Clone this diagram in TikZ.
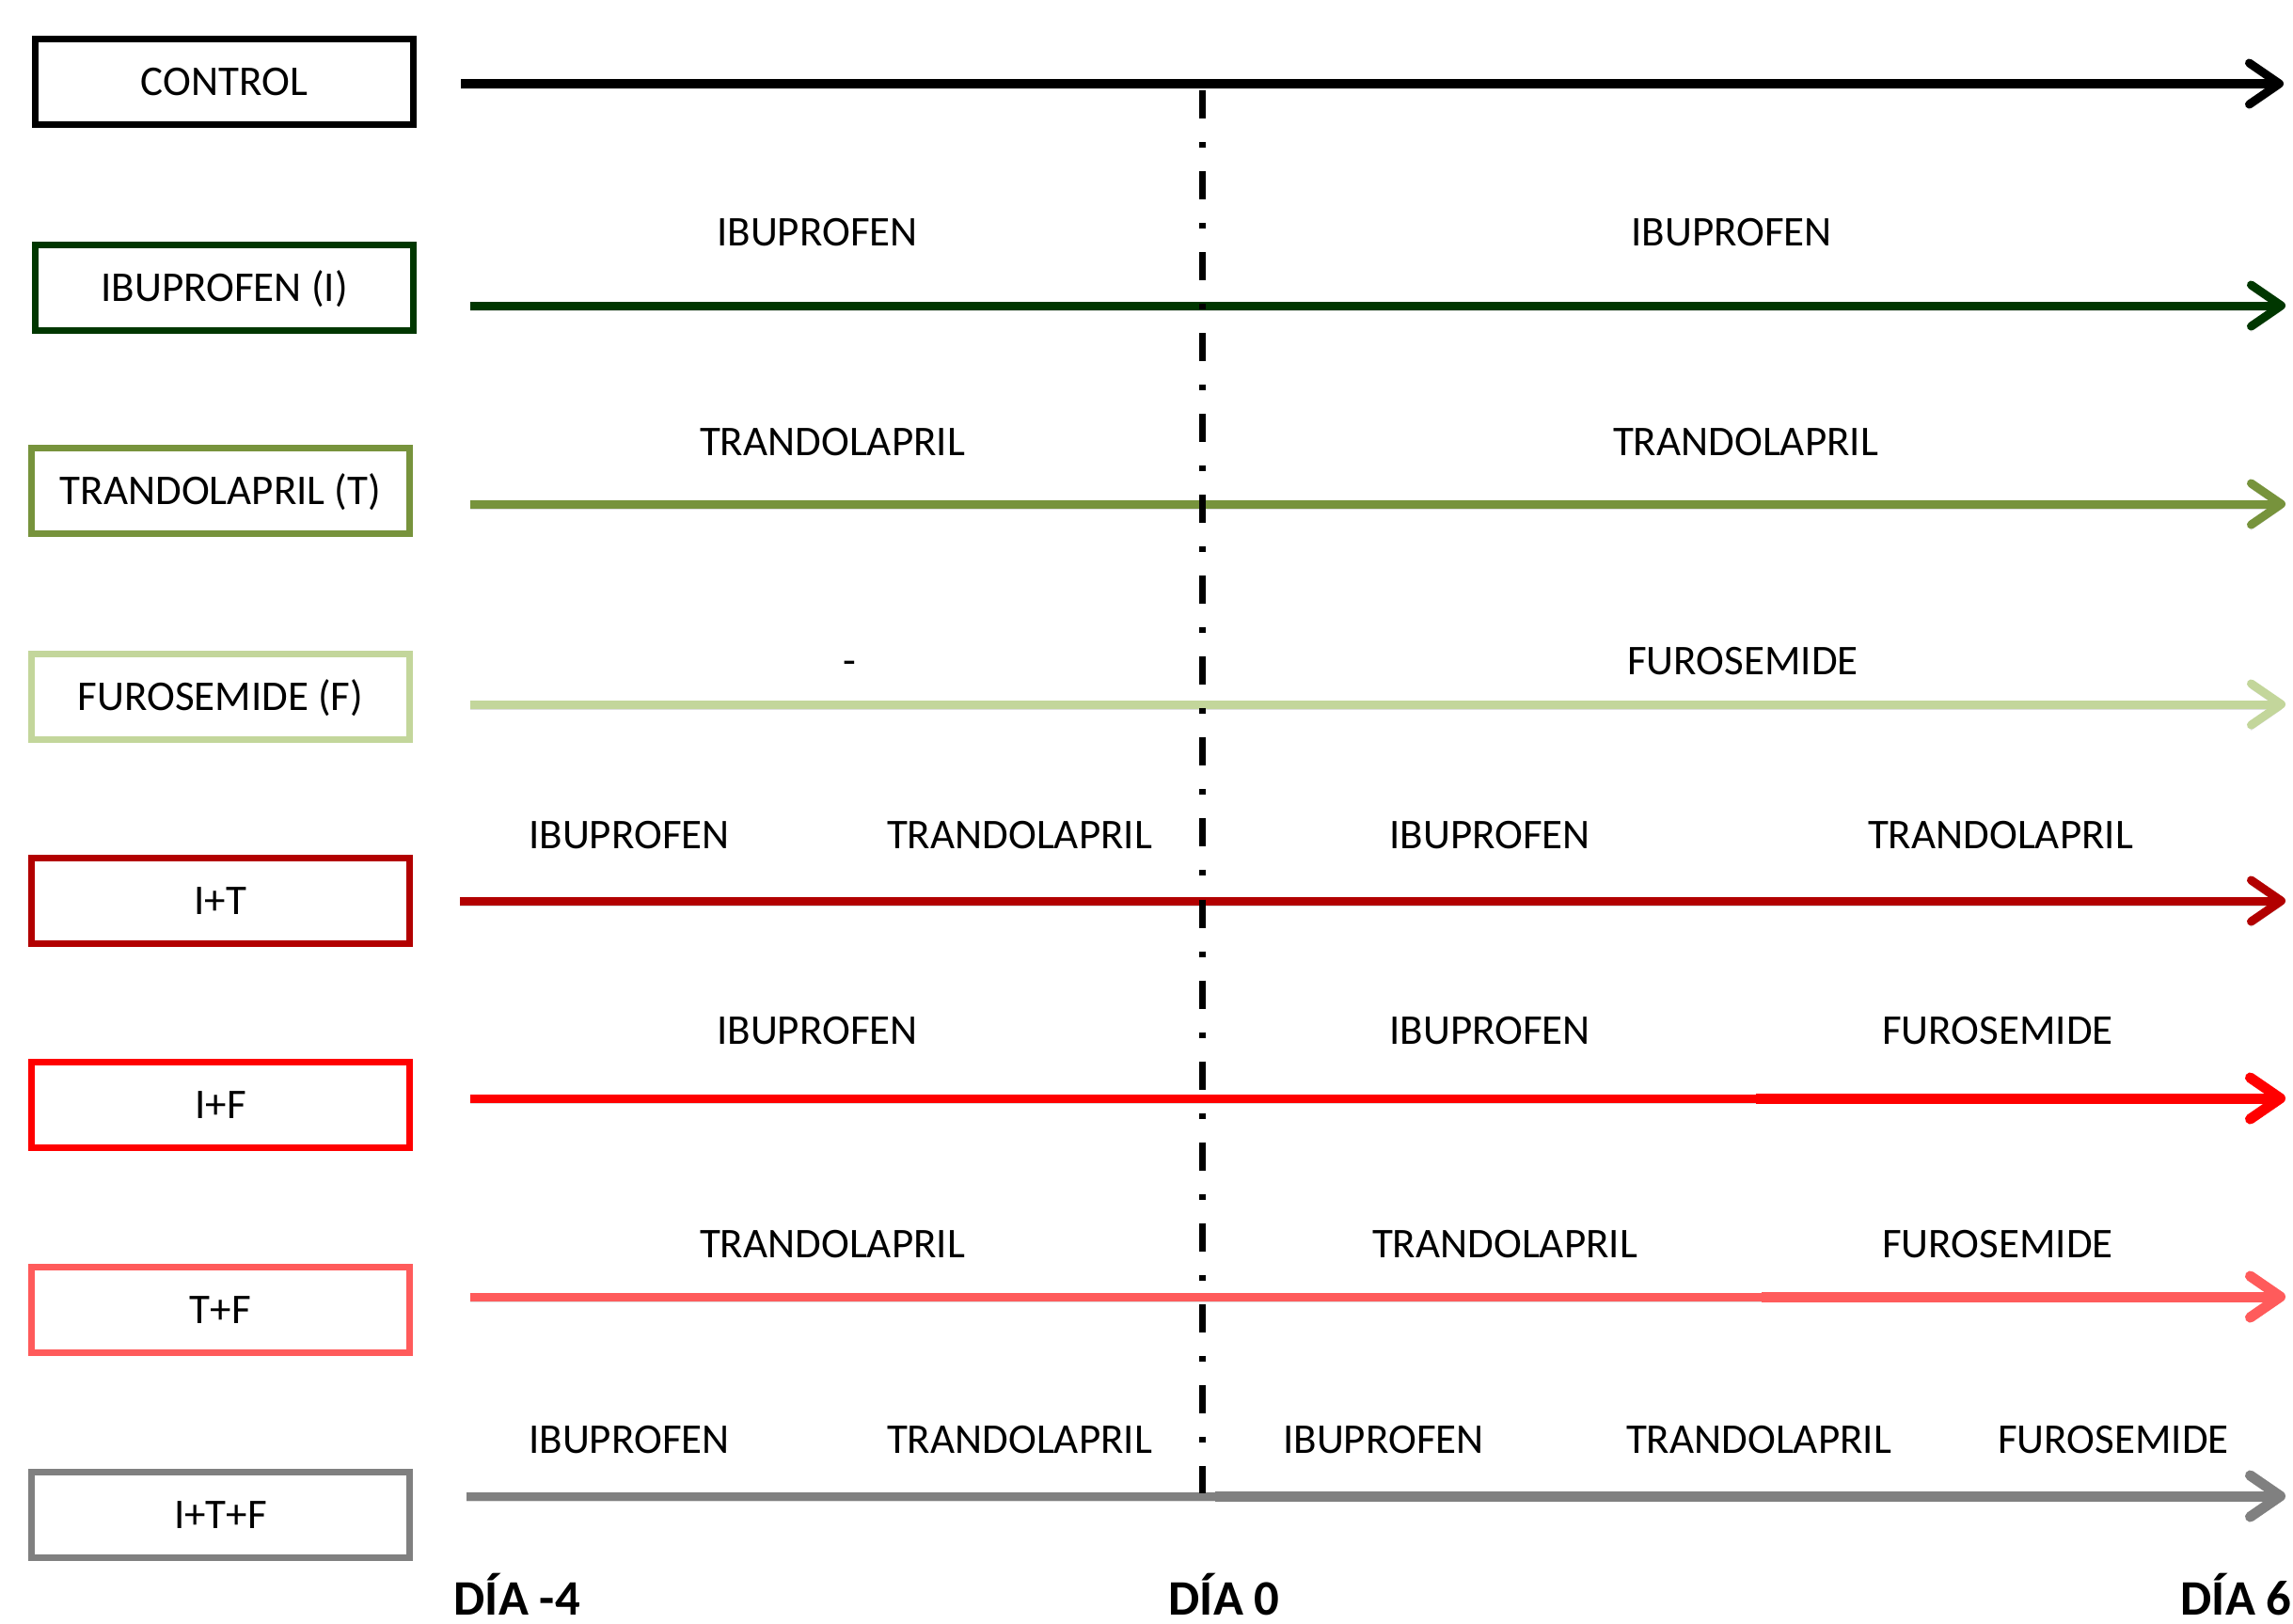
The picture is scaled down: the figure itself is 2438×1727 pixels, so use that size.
\documentclass[tikz,border=0pt]{standalone}
\usepackage{fontspec}
\setmainfont{Carlito}
\usetikzlibrary{arrows.meta}
\definecolor{cdkgreen}{RGB}{0,55,0}
\definecolor{colive}{RGB}{119,147,60}
\definecolor{clgreen}{RGB}{195,214,155}
\definecolor{cdkred}{RGB}{178,0,0}
\definecolor{cred}{RGB}{255,0,0}
\definecolor{clred}{RGB}{255,91,91}
\definecolor{cgray}{RGB}{128,128,128}
\newcommand\mylblfont{\fontsize{12.8}{15}\selectfont}
\newcommand\mydayfont{\fontsize{15}{18}\selectfont\bfseries}
\begin{document}
\begin{tikzpicture}[x=0.01cm,y=-0.01cm,
  grpbox/.style={draw,line width=2.1pt,minimum width=4.02cm,minimum height=0.91cm,inner sep=0pt,text height=0.29cm,text depth=0pt,font=\mylblfont},
  drug/.style={inner sep=0pt,text height=0.29cm,text depth=0pt,font=\mylblfont},
  daylbl/.style={inner sep=0pt,anchor=west,text height=0.34cm,text depth=0pt,font=\mydayfont},
  tl/.style={line width=0.09cm,preaction={draw=black,opacity=0.13,transform canvas={yshift=-0.05cm}}},
  tlthick/.style={tl,line width=0.11cm},
  tip/.style={-{Straight Barb[length=0.32cm,width=0.44cm,round]}},
  dayzero/.style={line width=0.07cm,dash pattern=on 0.30cm off 0.25cm on 0.06cm off 0.25cm}
]
\useasboundingbox (0,0) rectangle (2438,1727);

% group boxes
\node[grpbox,draw=black]    (bC)   at (238.5,87)  {CONTROL};
\node[grpbox,draw=cdkgreen] (bI)   at (238.5,306) {IBUPROFEN (I)};
\node[grpbox,draw=colive]   (bT)   at (234.5,522) {TRANDOLAPRIL (T)};
\node[grpbox,draw=clgreen]  (bF)   at (234.5,741) {FUROSEMIDE (F)};
\node[grpbox,draw=cdkred]   (bIT)  at (234.5,958) {I+T};
\node[grpbox,draw=cred]     (bIF)  at (234.5,1175) {I+F};
\node[grpbox,draw=clred]    (bTF)  at (234.5,1393) {T+F};
\node[grpbox,draw=cgray]    (bITF) at (234.5,1611) {I+T+F};

% timeline coordinates
\coordinate (s1) at (490,89);   \coordinate (e1) at (2428,89);
\coordinate (s2) at (500,325);  \coordinate (e2) at (2430,325);
\coordinate (s3) at (500,536);  \coordinate (e3) at (2430,536);
\coordinate (s4) at (500,749);  \coordinate (e4) at (2430,749);
\coordinate (s5) at (489,958);  \coordinate (m5a) at (896,958); \coordinate (m5b) at (1292,958);
\coordinate (m5c) at (1867,958); \coordinate (m5d) at (2095,958); \coordinate (e5) at (2430,958);
\coordinate (s6) at (500,1168); \coordinate (m6) at (1867,1168); \coordinate (e6) at (2430,1168);
\coordinate (s7) at (500,1379); \coordinate (m7) at (1873,1379); \coordinate (e7) at (2430,1379);
\coordinate (s8) at (496,1591); \coordinate (m8a) at (898,1591); \coordinate (m8b) at (1292,1591); \coordinate (e8) at (2430,1591);

% timelines
\draw[tl,tip,draw=black] (s1) -- (e1);
\draw[tl,tip,draw=cdkgreen] (s2) -- (e2);
\draw[tl,tip,draw=colive] (s3) -- (e3);
\draw[tl,tip,draw=clgreen] (s4) -- (e4);
\draw[tl,draw=cdkred] (s5) -- (m5a);
\draw[tl,draw=cdkred] (m5a) -- (m5b);
\draw[tl,draw=cdkred] (m5b) -- (m5c);
\draw[tl,draw=cdkred] (m5c) -- (m5d);
\draw[tl,tip,draw=cdkred] (m5d) -- (e5);
\draw[tl,draw=cred] (s6) -- (m6);
\draw[tlthick,tip,draw=cred] (m6) -- (e6);
\draw[tl,draw=clred] (s7) -- (m7);
\draw[tlthick,tip,draw=clred] (m7) -- (e7);
\draw[tl,draw=cgray] (s8) -- (m8a);
\draw[tl,draw=cgray] (m8a) -- (m8b);
\draw[tlthick,tip,draw=cgray] (m8b) -- (e8);

% day 0 dash-dot line
\coordinate (d0top) at (1278,96);
\coordinate (d0bot) at (1278,1588);
\draw[dayzero] (d0top) -- (d0bot);

% drug labels
\node[drug] (l2a) at (869,247) {IBUPROFEN};
\node[drug] (l2b) at (1841,247) {IBUPROFEN};
\node[drug] (l3a) at (885,470) {TRANDOLAPRIL};
\node[drug] (l3b) at (1856,470) {TRANDOLAPRIL};
\node[drug] (l4a) at (903,703) {-};
\node[drug] (l4b) at (1853,703) {FUROSEMIDE};
\node[drug] (l5a) at (669,888) {IBUPROFEN};
\node[drug] (l5b) at (1084,888) {TRANDOLAPRIL};
\node[drug] (l5c) at (1584,888) {IBUPROFEN};
\node[drug] (l5d) at (2127,888) {TRANDOLAPRIL};
\node[drug] (l6a) at (869,1096) {IBUPROFEN};
\node[drug] (l6b) at (1584,1096) {IBUPROFEN};
\node[drug] (l6c) at (2124,1096) {FUROSEMIDE};
\node[drug] (l7a) at (885,1323) {TRANDOLAPRIL};
\node[drug] (l7b) at (1600,1323) {TRANDOLAPRIL};
\node[drug] (l7c) at (2124,1323) {FUROSEMIDE};
\node[drug] (l8a) at (669,1531) {IBUPROFEN};
\node[drug] (l8b) at (1084,1531) {TRANDOLAPRIL};
\node[drug] (l8c) at (1471,1531) {IBUPROFEN};
\node[drug] (l8d) at (1870,1531) {TRANDOLAPRIL};
\node[drug] (l8e) at (2247,1531) {FUROSEMIDE};

% day labels
\node[daylbl] (dm4) at (482,1700) {DÍA -4};
\node[daylbl] (d0)  at (1242,1700) {DÍA 0};
\node[daylbl] (d6)  at (2318,1700) {DÍA 6};
\end{tikzpicture}
\end{document}
